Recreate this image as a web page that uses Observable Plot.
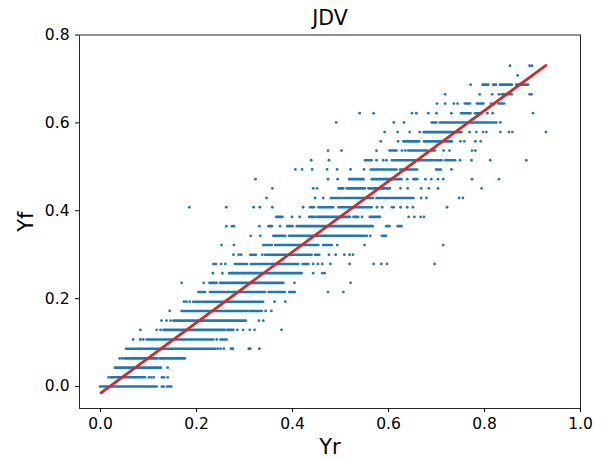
<!DOCTYPE html>
<html>
<head>
<meta charset="utf-8">
<script src="https://cdn.jsdelivr.net/npm/d3@7"></script>
<script src="https://cdn.jsdelivr.net/npm/@observablehq/plot@0.6"></script>
<style>
html,body{margin:0;padding:0;background:#fff}
svg{display:block}
</style>
</head>
<body>
<div id="chart"></div>
<script>
// Yf takes discrete levels; each level is one row of the scatter.
const yfLevels = [0,.021,.043,.064,.086,.107,.129,.150,.172,.193,.215,.236,.258,.279,.300,.322,.343,.365,.386,.408,.429,.451,.472,.494,.515,.537,.558,.579,.601,.622,.644,.665,.687,.708,.730];

// Isolated Yr values that can be read one by one, per level.
const yrDots = [
[.128,.132],
[.017,.022,.101,.106,.111,.128,.132,.14],
[.14],
[.04,.045],
[.244,.25,.257,.272,.276,.309,.312,.331],
[.068,.083,.089,.242],
[.083,.117,.125,.285,.297,.311,.321,.377],
[.127,.1375,.146,.33,.339],
[.144,.344,.356],
[.174,.179,.186,.3625,.385],
[.474,.506],
[.169,.215,.404,.521],
[.234,.254,.443,.462,.467],
[.251,.26,.443,.453,.462,.479,.519,.569,.585,.597,.696],
[.277,.288,.293,.337,.476,.49,.508,.519,.526],
[.252,.278,.493,.55,.714],
[.313,.333,.385,.562],
[.262,.274,.278,.331,.374],
[.399,.415,.545,.642,.654,.667,.674],
[.185,.262,.319,.332,.358,.422,.576,.587,.625,.639,.651,.722],
[.346,.447,.464,.668,.679,.747,.755],
[.358,.443,.451,.625,.64,.668,.684,.703,.794],
[.323,.474,.494,.639,.677,.689,.703,.714,.774,.83],
[.406,.42,.441,.472,.493,.521,.549,.731],
[.439,.476,.575,.589,.596,.749,.773,.812,.887],
[.474,.502,.575,.628,.635,.715,.727,.774,.781],
[.584,.62,.75,.758,.781,.792],
[.592,.619,.644,.665,.769,.783,.797,.804,.833,.851,.858,.928],
[.491,.611,.632,.833],
[.54,.569,.649,.658,.683,.7,.731,.806,.817,.901],
[.701,.718,.736,.744,.814,.821],
[.718,.79,.816,.83,.894,.898],
[.771],
[.869],
[.853,.894,.899]
];

// Stretches where the dots overlap into a solid band: only the ends can be read.
const yrRuns = [
[[0,.118],[.14,.149]],
[[.024,.094]],
[[.031,.127]],
[[.051,.119],[.124,.177]],
[[.054,.24]],
[[.097,.236],[.251,.264]],
[[.132,.26],[.265,.278]],
[[.153,.304]],
[[.17,.306],[.311,.337]],
[[.194,.21],[.214,.34]],
[[.205,.219],[.229,.344],[.351,.361],[.365,.385],[.394,.406]],
[[.228,.243],[.25,.382]],
[[.269,.42]],
[[.236,.242],[.281,.306],[.314,.413],[.422,.434]],
[[.313,.325],[.344,.441],[.448,.457]],
[[.34,.358],[.365,.455],[.465,.483]],
[[.361,.382],[.394,.556],[.587,.596]],
[[.351,.358],[.39,.401],[.41,.568],[.596,.603],[.62,.628]],
[[.367,.38],[.436,.446],[.451,.521],[.528,.538],[.562,.583]],
[[.4375,.446],[.455,.486],[.497,.566],[.608,.612]],
[[.481,.503],[.507,.569],[.576,.653]],
[[.497,.507],[.514,.552],[.559,.604]],
[[.519,.549],[.566,.628],[.653,.661]],
[[.564,.618],[.625,.661],[.7,.71]],
[[.552,.566],[.608,.694],[.698,.712],[.719,.74]],
[[.603,.618],[.642,.681],[.688,.698]],
[[.632,.665],[.675,.733]],
[[.674,.753]],
[[.691,.701],[.708,.826]],
[[.752,.772],[.781,.795]],
[[.76,.771],[.785,.799],[.83,.842]],
[[.837,.858]],
[[.797,.809],[.819,.825],[.833,.858],[.867,.892]],
[],
[]
];

const fitYr = [.001,.928];
const fitYf = [-.0143,.731];
const xTicks = [0,.2,.4,.6,.8,1];
const yTicks = [0,.2,.4,.6,.8];

const dots = yrDots.flatMap((row,i)=>row.map(x=>({x,y:yfLevels[i]})));
const runs = yrRuns.flatMap((row,i)=>row.map(([x1,x2])=>({x1,x2,y:yfLevels[i]})));
const fit = fitYr.map((x,i)=>({x,y:fitYf[i]}));
const font = "'DejaVu Sans'";

const plot = Plot.plot({
  width:604,height:459,
  marginLeft:79,marginRight:24,marginTop:34.5,marginBottom:51,
  style:{fontFamily:font,background:"#fff",color:"#000"},
  x:{domain:[-.04375,1],label:null},
  y:{domain:[-.05,.8],label:null},
  marks:[
    Plot.axisX({ticks:xTicks,tickFormat:".1f",tickSize:4,tickPadding:5,fontSize:15.5,label:null}),
    Plot.axisY({ticks:yTicks,tickFormat:".1f",tickSize:4,tickPadding:6,fontSize:15.5,label:null}),
    Plot.ruleY(runs,{y:"y",x1:"x1",x2:"x2",stroke:"#1f77b4",strokeWidth:2.6,strokeLinecap:"round"}),
    Plot.dot(dots,{x:"x",y:"y",r:1.4,fill:"#1f77b4",stroke:"none"}),
    Plot.line(fit,{x:"x",y:"y",stroke:"#d62728",strokeWidth:2.7}),
    Plot.frame({stroke:"#000",strokeWidth:1,strokeOpacity:.85}),
    Plot.text(["JDV"],{frameAnchor:"top",dy:-25,fontSize:20.5,fill:"#000"}),
    Plot.text(["Yr"],{frameAnchor:"bottom",dy:45,fontSize:21,fill:"#000"}),
    Plot.text(["Yf"],{frameAnchor:"left",textAnchor:"middle",dx:-53,rotate:-90,fontSize:21,fill:"#000"})
  ]
});
document.getElementById("chart").appendChild(plot);
</script>
</body>
</html>
